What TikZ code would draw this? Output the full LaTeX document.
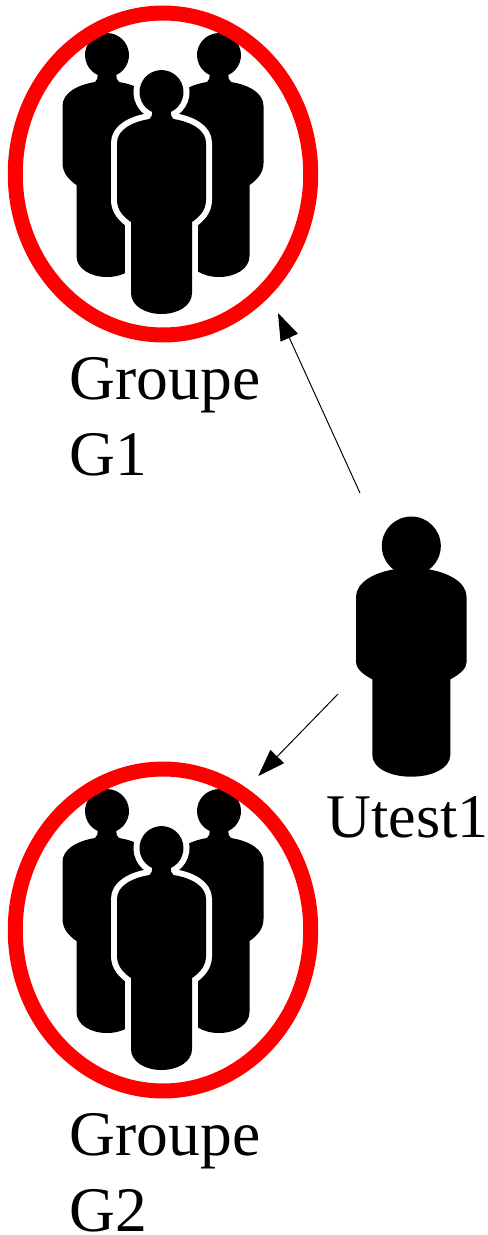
\documentclass[tikz,border=0pt]{standalone}
\usepackage{fontspec}
\setmainfont{Liberation Serif}
\usetikzlibrary{shapes.geometric,arrows.meta}
\newcommand{\manpath}{(9.3,-20) arc[start angle=-65,end angle=245,radius=22]
  .. controls (-9.5,-23) and (-9.5,-25) .. (-12,-27)
  .. controls (-30,-30) and (-44.5,-38) .. (-44.5,-51) -- (-44.5,-108)
  .. controls (-44.5,-118) and (-38,-125) .. (-30.5,-130) -- (-30.5,-201)
  .. controls (-30.5,-214) and (-16,-222) .. (0,-222)
  .. controls (16,-222) and (30.5,-214) .. (30.5,-201) -- (30.5,-130)
  .. controls (38,-125) and (44.5,-118) .. (44.5,-108) -- (44.5,-51)
  .. controls (44.5,-38) and (30,-30) .. (12,-27)
  .. controls (9.5,-25) and (9.5,-23) .. (9.3,-20) -- cycle}
\tikzset{
  ring/.style={ellipse,draw=red,line width=8.5pt,inner sep=0pt,minimum width=167.5pt,minimum height=182.5pt},
  lbl/.style={font=\fontsize{36}{43.1}\selectfont,inner sep=0pt,align=left,anchor=north west},
  link/.style={line width=0.55pt,-{Triangle[length=15.4pt,width=10.7pt]}},
  crowd/.pic={
    \fill[black,shift={(-54.5,37)}] \manpath;
    \fill[black,shift={(57.5,37)}] \manpath;
    \fill[black,preaction={draw=white,line width=6.8pt}] \manpath;
  }
}
\begin{document}
\begin{tikzpicture}[x=0.5669pt,y=0.5669pt]
\useasboundingbox (0,0) rectangle (488,-1235);
% first group
\pic at (161.5,-92) {crowd};
\node[ring] (group1) at (163,-174) {};
\node[lbl] (label1) at (69.5,-357) {Groupe\\G1};
% second group
\pic at (161.5,-848) {crowd};
\node[ring] (group2) at (163,-930) {};
\node[lbl] (label2) at (69.5,-1113) {Groupe\\G2};
% user
\fill[black] (411.3,-546) circle (29.5);
\fill[black] (396.3,-569) .. controls (375,-572) and (356,-582) .. (356,-597) -- (356,-662)
  .. controls (356,-668) and (362,-674) .. (372.3,-679.3) -- (372.3,-755)
  .. controls (372.3,-768) and (390,-776.7) .. (411.3,-776.7)
  .. controls (432.6,-776.7) and (450.3,-768) .. (450.3,-755) -- (450.3,-679.3)
  .. controls (460.6,-674) and (466.6,-668) .. (466.6,-662) -- (466.6,-597)
  .. controls (466.6,-582) and (447.6,-572) .. (426.3,-569) -- cycle;
\node[lbl,font=\fontsize{35.2}{43.1}\selectfont] (user1) at (326,-796) {Utest1};
% links
\coordinate (start1) at (360,-493);
\coordinate (end1) at (278,-313);
\coordinate (start2) at (338,-694);
\coordinate (end2) at (258.3,-776);
\draw[link] (start1) -- (end1);
\draw[link] (start2) -- (end2);
\end{tikzpicture}
\end{document}
